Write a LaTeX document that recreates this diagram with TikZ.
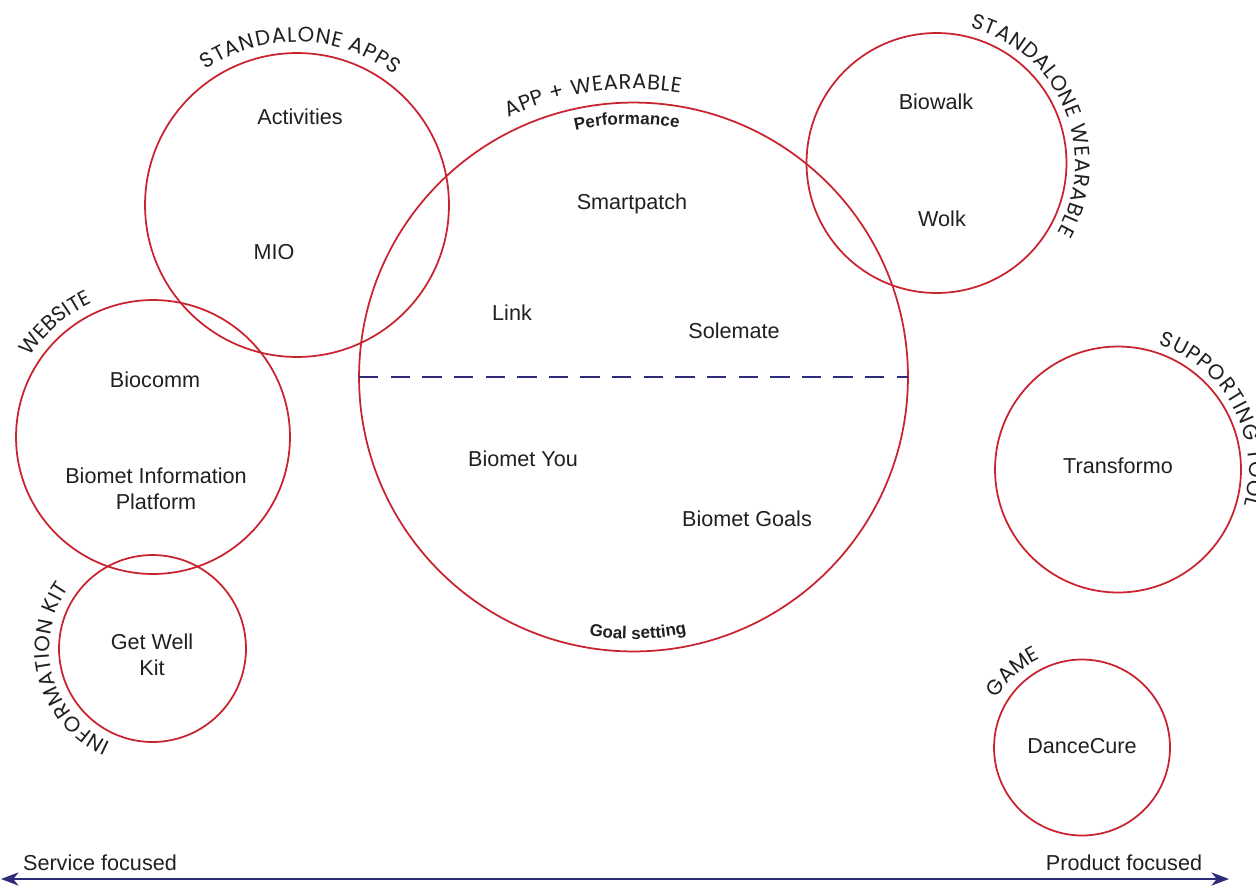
\documentclass[tikz,border=0pt]{standalone}
\usepackage{fontspec}
\setmainfont{Liberation Sans}
\newfontfamily\geofont{Poppins}
\usetikzlibrary{arrows.meta,decorations.text}

\definecolor{ringred}{HTML}{C8232E}
\definecolor{axisblue}{HTML}{2E2B78}
\definecolor{ink}{HTML}{231F20}

\tikzset{
  ring/.style={circle, draw=ringred, line width=1pt, inner sep=0pt, outer sep=0pt},
  item/.style={text=ink, font=\fontsize{12.3}{14.7}\selectfont, align=center, inner sep=0pt},
  divider/.style={draw=axisblue, line width=0.9pt, dash pattern=on 11pt off 7pt},
  axis/.style={draw=axisblue, line width=1.1pt,
    {Stealth[length=10pt,width=7.5pt,inset=3pt]}-{Stealth[length=10pt,width=7.5pt,inset=3pt]}},
}

% group title set along an arc around a circle: centre, radius, start, end, text
\newcommand{\arclabel}[5]{%
  \path[decorate, decoration={text along path, text align=fit to path,
      text={|\geofont\fontsize{12}{14}\selectfont\color{ink}|#5}}]
    (#1) ++(#3:#2) arc[start angle=#3, end angle=#4, radius=#2];}
% bold sub-heading set along an arc, centred
\newcommand{\archeading}[5]{%
  \path[decorate, decoration={text along path, text align=center,
      text={|\bfseries\fontsize{9.7}{12}\selectfont\color{ink}|#5}}]
    (#1) ++(#3:#2) arc[start angle=#3, end angle=#4, radius=#2];}

\begin{document}
\begin{tikzpicture}[x=0.02cm, y=0.02cm]
  \useasboundingbox (0,0) rectangle (1256,-886);

  % circles
  \node[ring, minimum size=6.08cm]  (apps)    at (297,-205)   {};
  \node[ring, minimum size=10.98cm] (appwear) at (633.5,-377) {};
  \node[ring, minimum size=5.2cm]   (wear)    at (936.5,-163) {};
  \node[ring, minimum size=5.48cm]  (web)     at (153,-437)   {};
  \node[ring, minimum size=3.74cm]  (kit)     at (152.5,-648.5) {};
  \node[ring, minimum size=4.92cm]  (tool)    at (1118,-469.5) {};
  \node[ring, minimum size=3.52cm]  (game)    at (1082,-747.5) {};

  % split of the app + wearable group
  \draw[divider] (appwear.west) -- (appwear.east);

  % group titles
  \arclabel{apps}{163}{124}{53}{STANDALONE APPS}
  \arclabel{appwear}{288}{115.7}{80.6}{APP + WEARABLE}
  \arclabel{wear}{139}{76}{-30}{STANDALONE WEARABLE}
  \arclabel{tool}{131}{72}{-16}{SUPPORTING TOOL}
  \arclabel{web}{147}{147}{115}{WEBSITE}
  \arclabel{kit}{103}{246}{144}{INFORMATION KIT}
  \arclabel{game}{98}{150}{115}{GAME}

  \archeading{appwear}{253}{104}{79}{Performance}
  \archeading{appwear}{262}{259}{283}{Goal setting}

  % products
  \node[item] (activities) at (300,-117) {Activities};
  \node[item] (mio)        at (274,-252) {MIO};
  \node[item] (smartpatch) at (632,-204) {Smartpatch};
  \node[item] (link)       at (512,-313) {Link};
  \node[item] (solemate)   at (734,-331) {Solemate};
  \node[item] (biowalk)    at (936,-102) {Biowalk};
  \node[item] (wolk)       at (942,-219) {Wolk};
  \node[item] (biocomm)    at (155,-380) {Biocomm};
  \node[item] (platform)   at (156,-489) {Biomet Information\\Platform};
  \node[item] (you)        at (523,-459) {Biomet You};
  \node[item] (goals)      at (747,-519) {Biomet Goals};
  \node[item] (transformo) at (1118,-466) {Transformo};
  \node[item] (getwell)    at (152,-655) {Get Well\\Kit};
  \node[item] (dancecure)  at (1082,-746) {DanceCure};

  % service / product axis
  \coordinate (axL) at (1,-879);
  \coordinate (axR) at (1229,-879);
  \draw[axis] (axL) -- (axR);
  \node[item] (service) at (100,-863) {Service focused};
  \node[item] (product) at (1124,-863) {Product focused};
\end{tikzpicture}
\end{document}
